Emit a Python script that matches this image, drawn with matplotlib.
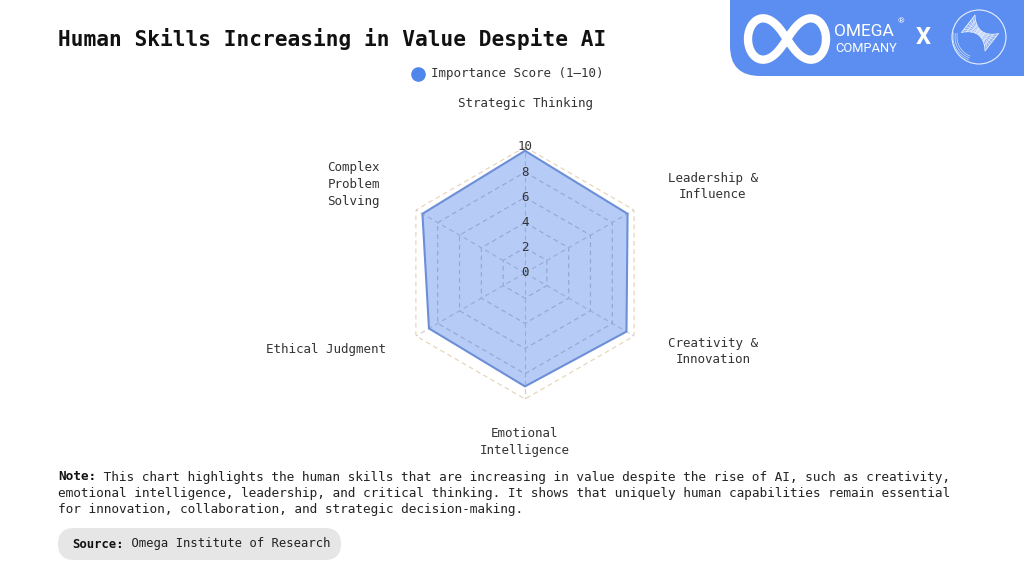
import numpy as np
import matplotlib
matplotlib.use("Agg")
import matplotlib.pyplot as plt
from matplotlib.patches import FancyBboxPatch, Circle, Polygon

# ---- data ----
categories = ["Strategic Thinking", "Leadership &\nInfluence", "Creativity &\nInnovation",
              "Emotional\nIntelligence", "Ethical Judgment", "Complex\nProblem\nSolving"]
scores = [9.7, 9.4, 9.3, 9.0, 8.8, 9.4]
ticks = [0, 2, 4, 6, 8, 10]
series_name = "Importance Score (1\u201310)"
title = "Human Skills Increasing in Value Despite AI"
note_lines = [
    "This chart highlights the human skills that are increasing in value despite the rise of AI, such as creativity,",
    "emotional intelligence, leadership, and critical thinking. It shows that uniquely human capabilities remain essential",
    "for innovation, collaboration, and strategic decision-making.",
]
source = "Omega Institute of Research"

MONO = "DejaVu Sans Mono"
plt.rcParams['font.family'] = [MONO, 'DejaVu Sans']

W, H = 1024, 576
fig = plt.figure(figsize=(W / 100, H / 100), dpi=100, facecolor="white")

# overlay axes in pixel coordinates
ov = fig.add_axes([0, 0, 1, 1])
ov.set_xlim(0, W)
ov.set_ylim(H, 0)
ov.axis("off")

# ---- radar ----
cx, cy, R = 525, 273, 126
ax = fig.add_axes([(cx - R) / W, (H - cy - R) / H, 2 * R / W, 2 * R / H], projection="polar")
ax.set_theta_zero_location("N")
ax.set_theta_direction(-1)
ax.set_ylim(0, 10)
ax.axis("off")
n = len(categories)
ang = np.linspace(0, 2 * np.pi, n, endpoint=False)
ang_c = np.append(ang, ang[0])

for t in ticks[1:]:
    col = "#e6d4b8" if t == ticks[-1] else "#c4c4c4"
    ax.plot(ang_c, [t] * (n + 1), color=col, lw=0.85, ls=(0, (4, 3)), zorder=1)
for a in ang:
    ax.plot([a, a], [0, ticks[-1]], color="#cccccc", lw=0.85, ls=(0, (4, 3)), zorder=1)

vals = scores + scores[:1]
ax.fill(ang_c, vals, color="#4a7fe8", alpha=0.40, zorder=2, lw=0)
ax.plot(ang_c, vals, color="#6d8fd8", lw=1.5, zorder=3)

for t in ticks:
    ax.text(0, t, str(t), ha="center", va="center", fontsize=9, color="#333333", zorder=4)

# category labels (pixel nudges to match layout)
nudges = [(0, 0), (0, 4), (0, 4), (0, 0), (4, 6), (-2, 6)]
label_r = 13.1
for a, lab, (dx, dy) in zip(ang, categories, nudges):
    s, c = np.sin(a), np.cos(a)
    if abs(s) < 1e-6:
        ha = "center"
    elif s > 0:
        ha = "left"
    else:
        ha = "right"
    if c > 0.99:
        va = "bottom"
    elif c < -0.99:
        va = "top"
    else:
        va = "center"
    r = label_r if abs(s) > 1e-6 else (12.9 if c > 0 else 12.2)
    ax.annotate(lab, xy=(a, r), xytext=(dx * 0.72, dy * 0.72), textcoords="offset points",
                ha=ha, va=va, ma="center", fontsize=9, color="#333333",
                linespacing=1.38, annotation_clip=False)

# ---- title ----
ov.text(58, 39, title, fontsize=15.2, fontweight="bold", color="#111111", va="center", ha="left")

# ---- legend ----
ov.plot([418], [74], marker="o", ms=9.5, color="#4f86ec", mec="#4f86ec")
ov.text(431, 74, series_name, fontsize=9, color="#333333", va="center", ha="left")

# ---- note ----
ys = [477, 493.5, 510]
t0 = ov.text(58, ys[0], "Note:", fontsize=9.2, fontweight="bold", color="#111111", va="center", ha="left")
ov.annotate(" " + note_lines[0], xy=(1, 0.5), xycoords=t0, va="center", ha="left",
            fontsize=9.2, color="#222222")
for y, line in zip(ys[1:], note_lines[1:]):
    ov.text(58, y, line, fontsize=9.2, color="#222222", va="center", ha="left")

# ---- source box ----
ov.add_patch(FancyBboxPatch((58, 528), 283, 32, boxstyle="round,pad=0,rounding_size=16",
                            fc="#e6e6e6", ec="none"))
s0 = ov.text(72, 544, "Source:", fontsize=8.8, fontweight="bold", color="#111111", va="center", ha="left")
ov.annotate(" " + source, xy=(1, 0.5), xycoords=s0, va="center", ha="left",
            fontsize=8.8, color="#222222")

# ---- logo ----
ov.add_patch(FancyBboxPatch((730, -60), 360, 136, boxstyle="round,pad=0,rounding_size=30",
                            fc="#5b8ef0", ec="none"))
tt = np.linspace(0, 2 * np.pi, 300)
aa = 39
lx = 787 + aa * np.cos(tt) / (1 + np.sin(tt) ** 2)
ly = 39 + 1.5 * aa * np.sin(tt) * np.cos(tt) / (1 + np.sin(tt) ** 2)
ov.plot(lx, ly, color="white", lw=6, solid_capstyle="round")
ov.text(834, 31, "OMEGA", fontsize=12.5, color="white", family="Roboto", va="center", ha="left")
ov.text(898, 21, "\u00ae", fontsize=6, color="white", family="Roboto", va="center", ha="left")
ov.text(835, 48, "COMPANY", fontsize=9.3, color="white", family="Roboto", va="center", ha="left")
ov.text(916, 38, "X", fontsize=17, color="white", family="Roboto", fontweight="bold", va="center", ha="left")
ov.add_patch(Circle((979, 37), 27, fill=False, ec="#e8f0ff", lw=0.8))
# twisted hourglass emblem
u = np.linspace(-15, 15, 40)
hw = 2.5 + 8.5 * (u / 15) ** 2
th = np.deg2rad(38)
ex, ey = np.cos(th), np.sin(th)
px, py = -ey, ex
top = np.column_stack([980 + u * ex + hw * px, 33 + u * ey + hw * py])
bot = np.column_stack([980 + u * ex - hw * px, 33 + u * ey - hw * py])
ov.add_patch(Polygon(np.vstack([top, bot[::-1]]), closed=True, fc="white", alpha=0.35, ec="white", lw=0.5))
for k in np.linspace(-1, 1, 7):
    ov.plot(980 + u * ex + k * hw * px, 33 + u * ey + k * hw * py, color="white", lw=0.45, alpha=0.8)
for uk in np.linspace(-15, 15, 9):
    h = 2.5 + 8.5 * (uk / 15) ** 2
    ov.plot([980 + uk * ex - h * px, 980 + uk * ex + h * px],
            [33 + uk * ey - h * py, 33 + uk * ey + h * py], color="white", lw=0.45, alpha=0.8)
phi = np.linspace(np.deg2rad(100), np.deg2rad(175), 40)
for rr in [22, 24, 26]:
    ov.plot(979 + rr * np.cos(phi + 0.25) * 1.0, 37 + rr * np.sin(phi + 0.25) * 0.95,
            color="white", lw=0.5, alpha=0.75)

fig.savefig("out.png", dpi=100, facecolor="white")
